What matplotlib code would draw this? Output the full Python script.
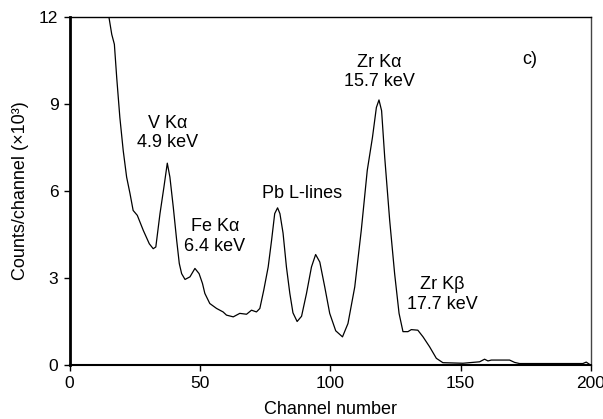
import matplotlib.pyplot as plt

# spectrum (counts in thousands)
channel = [14.5, 15.2, 16.2, 17.2, 18.1, 19.3, 20.6, 21.9, 23.2, 24.4, 26.0, 28.3,
           30.6, 32.1, 33.1, 34.7, 36.2, 37.5, 38.5, 39.8, 41.1, 42.1, 43.0, 44.3,
           46.2, 48.1, 49.7, 51.0, 51.9, 53.8, 56.4, 58.9, 60.2, 62.8, 65.3, 67.9,
           69.8, 71.7, 73.0, 74.5, 76.2, 77.5, 78.7, 79.8, 80.7, 81.9, 83.2, 84.5,
           85.7, 87.3, 89.0, 90.9, 92.8, 94.4, 96.0, 97.9, 99.8, 102.1, 104.7, 106.8,
           109.4, 111.9, 114.2, 116.2, 117.7, 118.7, 119.7, 120.9, 122.8, 124.7, 126.4,
           127.9, 129.8, 131.1, 133.6, 135.6, 138.1, 140.7, 143.2, 150.9, 157.3, 159.2,
           160.5, 161.8, 168.8, 170.7, 172.6, 196.9, 198.2, 199.5]
counts = [12.4, 11.95, 11.4, 11.06, 9.91, 8.54, 7.39, 6.48, 5.91, 5.33, 5.16, 4.64,
          4.18, 4.01, 4.07, 5.22, 6.13, 6.96, 6.48, 5.44, 4.30, 3.50, 3.15, 2.95,
          3.04, 3.33, 3.15, 2.81, 2.47, 2.12, 1.95, 1.83, 1.72, 1.66, 1.78, 1.75,
          1.89, 1.83, 1.95, 2.58, 3.38, 4.30, 5.22, 5.42, 5.22, 4.55, 3.38, 2.47,
          1.80, 1.50, 1.68, 2.47, 3.38, 3.81, 3.55, 2.69, 1.78, 1.18, 0.97, 1.43,
          2.69, 4.64, 6.71, 7.85, 8.88, 9.14, 8.77, 7.16, 4.99, 3.15, 1.78,
          1.15, 1.15, 1.22, 1.20, 0.97, 0.63, 0.23, 0.08, 0.06, 0.11, 0.20,
          0.14, 0.17, 0.17, 0.09, 0.05, 0.05, 0.10, 0.02]

# peak labels: text, channel, value
labels = ["V K\u03b1\n4.9 keV", "Fe K\u03b1\n6.4 keV", "Pb L-lines",
          "Zr K\u03b1\n15.7 keV", "Zr K\u03b2\n17.7 keV", "c)"]
label_x = [37.7, 55.7, 89.3, 118.9, 143.0, 176.5]
label_y = [8.0, 4.43, 5.93, 10.1, 2.44, 10.55]

plt.rcParams['font.family'] = ['Liberation Sans', 'DejaVu Sans']
plt.rcParams['font.size'] = 13

fig = plt.figure(figsize=(6.03, 4.19), dpi=100)
ax = fig.add_axes([0.1153, 0.1289, 0.8647, 0.8305])

ax.plot(channel, counts, color='black', linewidth=0.9)

for txt, x, y in zip(labels, label_x, label_y):
    ax.text(x, y, txt, ha='center', va='center', fontsize=13, linespacing=1.2)

ax.set_xlim(0, 200)
ax.set_ylim(0, 12)
ax.set_xticks([0, 50, 100, 150, 200])
ax.set_yticks([0, 3, 6, 9, 12])
ax.tick_params(direction='out', length=4, width=1, labelsize=12.5, pad=4)
ax.set_xlabel("Channel number", fontsize=13, labelpad=7)
ax.set_ylabel("Counts/channel (\u00d710\u00b3)", fontsize=13, labelpad=7)

ax.spines['left'].set_linewidth(2)
ax.spines['bottom'].set_linewidth(1.5)
ax.spines['top'].set_linewidth(1)
ax.spines['right'].set_linewidth(1)
ax.spines['right'].set_color('#444444')

fig.savefig("out.png", dpi=100)
